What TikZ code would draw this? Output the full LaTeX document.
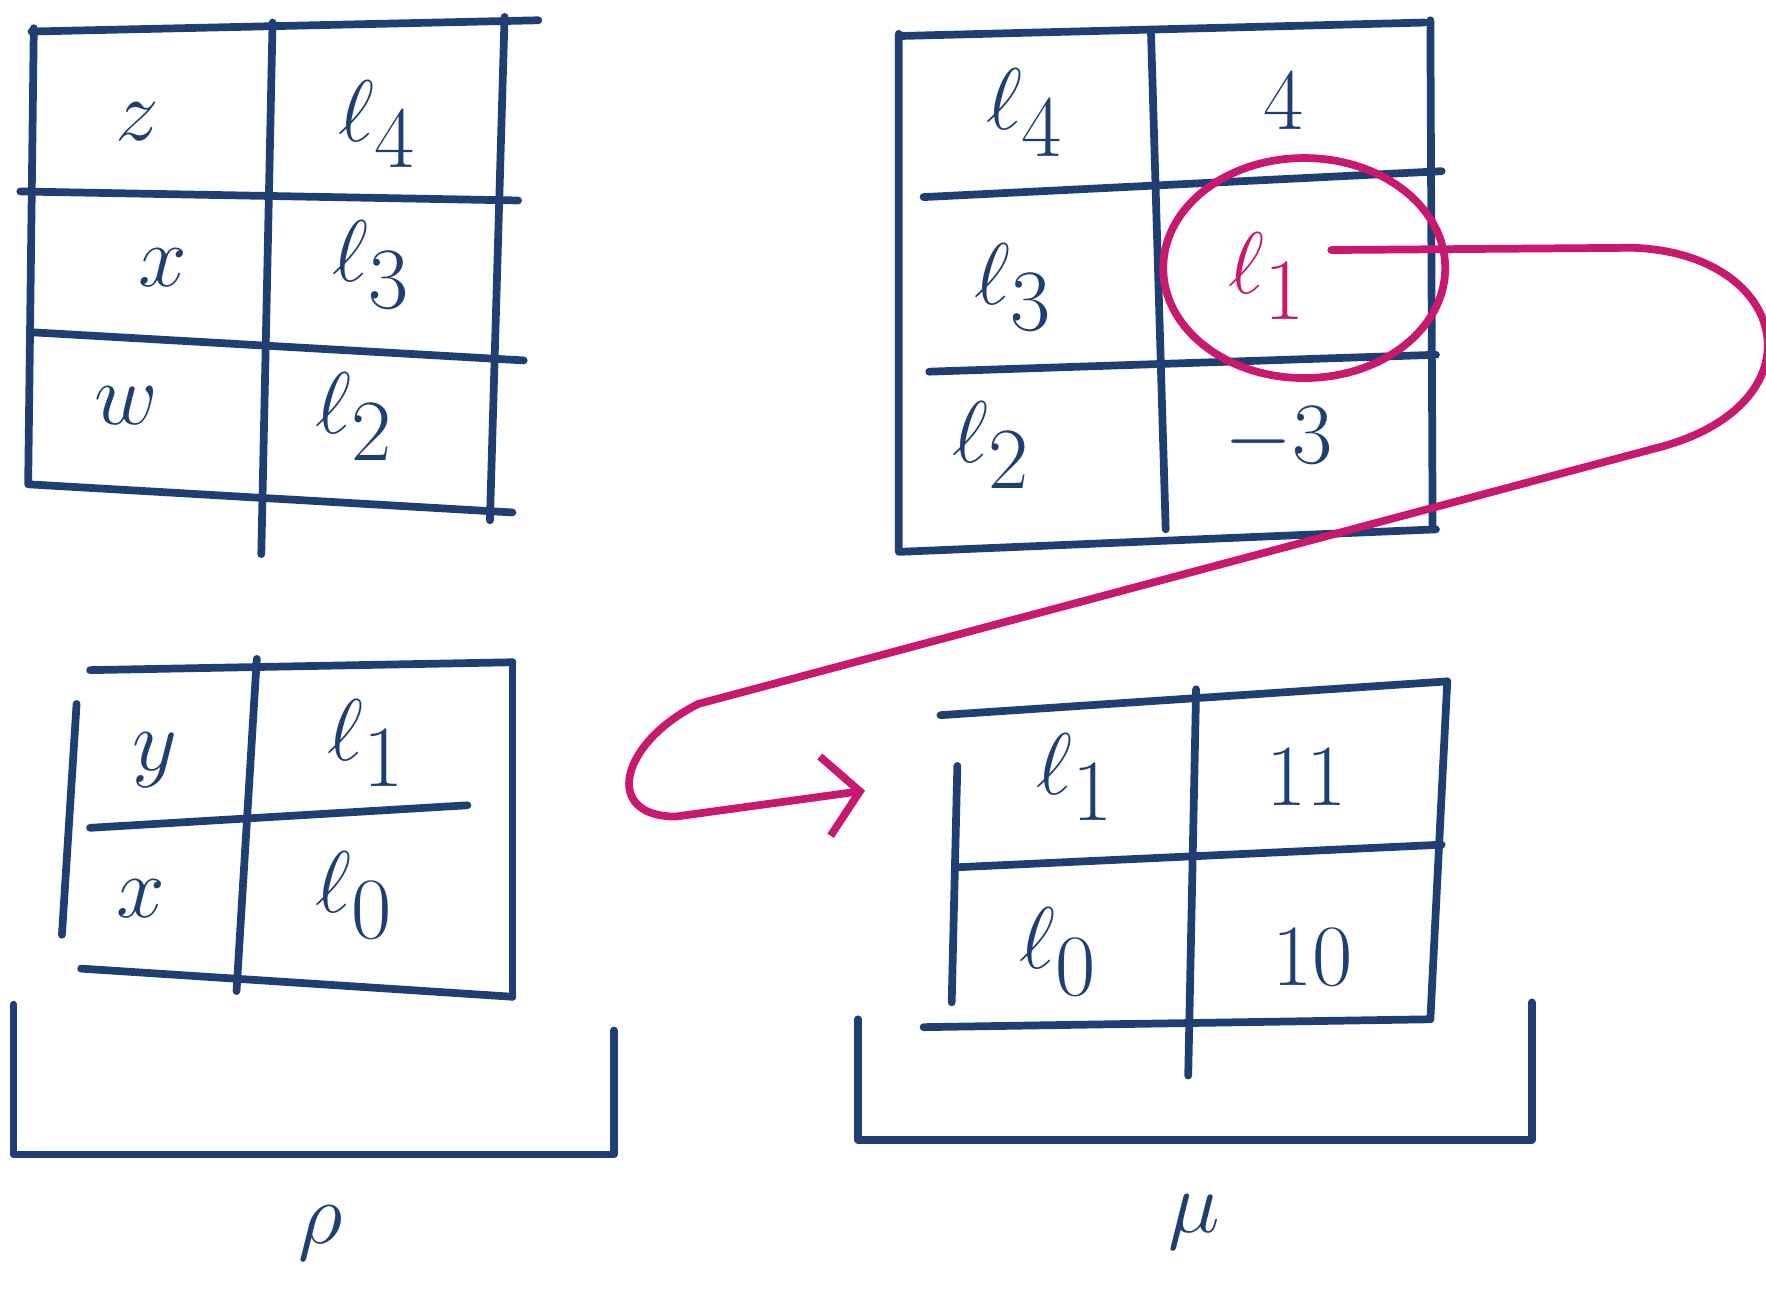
\documentclass[tikz,border=0pt]{standalone}
\usepackage{amsmath}
\usetikzlibrary{shapes,decorations}
\usetikzlibrary{arrows.meta, positioning}
\definecolor{ink}{RGB}{31,63,115}
\definecolor{pen}{RGB}{200,25,110}
\tikzset{
  entry/.style={text=ink, font=\fontsize{34}{40}\selectfont},
  grid/.style={draw=ink, line width=2.2pt, line cap=round, line join=round},
  mark red/.style={draw=pen, line width=2.2pt, line cap=round}
}
\begin{document}
\begin{tikzpicture}[x=1.1263cm, y=-1.1263cm]
\useasboundingbox (0,0) rectangle (15.68,11.57);

% top left table
\draw[grid] (0.28,0.28) -- (4.78,0.18);
\draw[grid] (0.30,0.25) -- (0.25,4.30) -- (4.55,4.55);
\draw[grid] (4.48,0.15) -- (4.35,4.62);
\draw[grid] (0.18,1.70) -- (4.60,1.78);
\draw[grid] (0.28,2.95) -- (4.65,3.20);
\draw[grid] (2.42,0.20) -- (2.32,4.92);
\node[entry] (z) at (1.22,1.08) {$z$};
\node[entry] (la4) at (3.35,1.10) {$\ell_4$};
\node[entry] (xa) at (1.45,2.38) {$x$};
\node[entry] (la3) at (3.30,2.35) {$\ell_3$};
\node[entry] (w) at (1.12,3.60) {$w$};
\node[entry] (la2) at (3.15,3.70) {$\ell_2$};

% top right table
\draw[grid] (7.98,0.32) -- (12.65,0.20);
\draw[grid] (7.98,0.30) -- (7.98,4.90) -- (12.75,4.70);
\draw[grid] (12.70,0.18) -- (12.72,4.70);
\draw[grid] (8.20,1.75) -- (12.80,1.52);
\draw[grid] (8.25,3.30) -- (12.75,3.15);
\draw[grid] (10.22,0.30) -- (10.35,4.70);
\node[entry] (lb4) at (9.10,1.00) {$\ell_4$};
\node[entry] (four) at (11.40,0.90) {$4$};
\node[entry] (lb3) at (9.00,2.55) {$\ell_3$};
\node[entry, text=pen] (lb1) at (11.25,2.45) {$\ell_1$};
\node[entry] (lb2) at (8.80,3.95) {$\ell_2$};
\node[entry] (mthree) at (11.35,3.90) {$-3$};

% bottom left table
\draw[grid] (0.80,5.95) -- (4.55,5.88);
\draw[grid] (4.55,5.88) -- (4.55,8.85);
\draw[grid] (0.68,6.25) -- (0.55,8.30);
\draw[grid] (0.72,8.60) -- (4.55,8.85);
\draw[grid] (0.80,7.35) -- (4.15,7.15);
\draw[grid] (2.28,5.85) -- (2.10,8.80);
\node[entry] (y) at (1.38,6.75) {$y$};
\node[entry] (lc1) at (3.25,6.60) {$\ell_1$};
\node[entry] (xc) at (1.25,7.98) {$x$};
\node[entry] (lc0) at (3.15,7.95) {$\ell_0$};

% bottom right table
\draw[grid] (8.35,6.35) -- (12.85,6.05);
\draw[grid] (12.85,6.05) -- (12.70,9.05);
\draw[grid] (8.50,6.80) -- (8.45,8.90);
\draw[grid] (8.20,9.12) -- (12.70,9.05);
\draw[grid] (8.50,7.70) -- (12.80,7.50);
\draw[grid] (10.62,6.12) -- (10.55,9.55);
\node[entry] (ld1) at (9.55,6.90) {$\ell_1$};
\node[entry] (eleven) at (11.60,6.90) {$11$};
\node[entry] (ld0) at (9.40,8.45) {$\ell_0$};
\node[entry] (ten) at (11.65,8.50) {$10$};

% brackets
\draw[grid] (0.12,8.92) -- (0.12,10.25) -- (5.45,10.25) -- (5.45,9.15);
\draw[grid] (7.62,9.05) -- (7.62,10.12) -- (13.60,10.12) -- (13.60,8.90);
\node[entry, font=\fontsize{80}{90}\selectfont] (rho) at (2.85,10.95) {$\rho$};
\node[entry, font=\fontsize{80}{90}\selectfont] (mu) at (10.60,10.85) {$\mu$};

% the looked-up cell and where it goes
\node[ellipse, mark red, minimum width=2.82cm, minimum height=2.2cm] (circ) at (11.58,2.38) {};
\coordinate (from) at (11.82,2.22);
\coordinate (target) at (7.68,7.02);
\draw[mark red, -{Straight Barb[length=3.5mm, width=8mm, line width=2.2pt]}]
  (from) -- (14.50,2.20)
  .. controls (15.90,2.25) and (16.20,3.60) .. (14.70,3.98)
  -- (6.20,6.25)
  .. controls (5.50,6.60) and (5.35,7.25) .. (6.00,7.25)
  -- (target);
\end{tikzpicture}
\end{document}
